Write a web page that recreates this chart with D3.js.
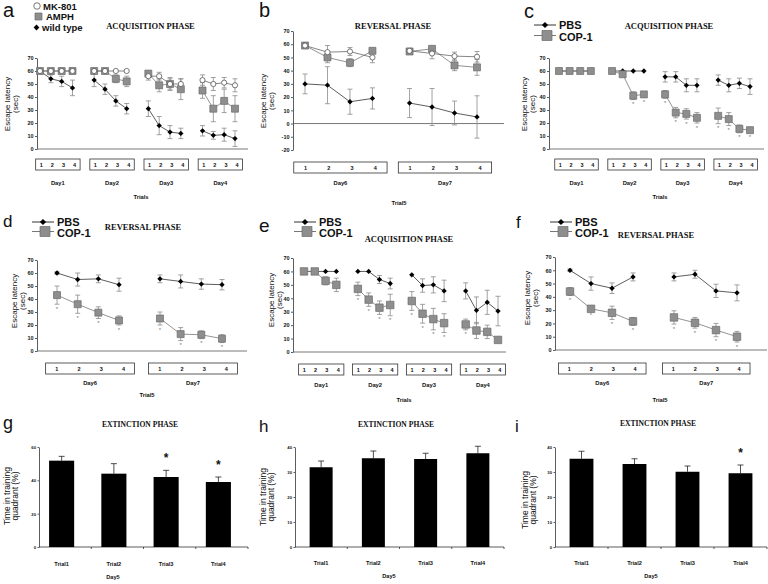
<!DOCTYPE html>
<html>
<head>
<meta charset="utf-8">
<script src="https://cdn.jsdelivr.net/npm/d3@7"></script>
<style>
body { margin: 0; background: #fff; }
svg text { font-family: Arial, "Liberation Sans", sans-serif; fill: #111; }
.title { font-family: "Times New Roman", "Liberation Serif", serif; font-weight: bold; }
</style>
</head>
<body>
<svg id="fig" width="768" height="584"></svg>
<script>
// ---------- data ----------
const trialNums = ['1', '2', '3', '4'];
const acqDays = ['Day1', 'Day2', 'Day3', 'Day4'];
const revDays = ['Day6', 'Day7'];
const barTrials = ['Trial1', 'Trial2', 'Trial3', 'Trial4'];
const latencyTicks = [0, 10, 20, 30, 40, 50, 60, 70];
const revLatencyTicks = [-20, -10, 0, 10, 20, 30, 40, 50, 60, 70];
const gTicks = [0, 20, 40, 60];
const hiTicks = [0, 10, 20, 30, 40];

// a - acquisition (MK-801 / AMPH / wild type), 4 trials x 4 days
const aMK801 = [60, 60, 60, 60, 60, 60, 60, 60, 56, 56, 50, 50, 53, 50, 51, 49];
const aMK801Err = [0, 0, 0, 0, 0, 0, 0, 0, 3, 3, 4, 4, 4, 5, 4, 5];
const aAMPH = [60, 60, 60, 60, 60, 60, 54, 52, 58, 49, 50, 46, 45, 31, 37, 31];
const aAMPHErr = [0, 0, 0, 0, 0, 0, 3, 4, 2, 5, 5, 8, 6, 10, 9, 10];
const aWild = [60, 54, 52, 47, 53, 46, 37, 31, 31, 18, 13, 12, 14, 10.5, 11, 8];
const aWildErr = [0, 3, 4, 6, 5, 4, 4, 4, 6, 7, 5, 4, 4, 3, 5, 6];

// b - reversal (MK-801 / AMPH / wild type), 4 trials x 2 days
const bMK801 = [59, 54, 54.5, 50, 55, 53, 51, 50.5];
const bMK801Err = [1, 5, 3, 4, 2, 4, 3, 4];
const bAMPH = [59, 50, 46, 55, 54.5, 56.5, 44, 42.5];
const bAMPHErr = [1, 4, 3, 2, 2, 2, 4, 6];
const bWild = [30, 29, 16.5, 19, 15.5, 12.5, 8, 5];
const bWildErr = [7.5, 14, 9.5, 8, 11, 14, 9, 16];

// c - acquisition PBS / COP-1
const cPBS = [60, 60, 60, 60, 60, 60, 60, 60, 55.5, 55.5, 49, 49, 53, 49, 50.5, 48];
const cPBSErr = [0, 0, 0, 0, 0, 0, 0, 0, 4, 4, 5, 5, 4, 5, 4, 6];
const cCOP = [60, 60, 60, 60, 60, 57.5, 41, 42, 42, 28, 27, 24, 25.5, 23, 15.5, 14.5];
const cCOPErr = [0, 0, 0, 0, 0, 0, 3, 2, 3, 4, 4, 4, 6, 5, 3, 2];
const cCOPStar = [0, 0, 0, 0, 0, 0, 1, 1, 1, 1, 1, 1, 1, 1, 1, 1];

// d - reversal PBS / COP-1
const dPBS = [60, 55, 55.5, 51, 55.5, 53.5, 51.5, 51];
const dPBSErr = [1, 5, 3, 5, 3, 5, 4, 4];
const dCOP = [43, 36, 29.5, 23.5, 25, 13, 12.5, 9.5];
const dCOPErr = [7, 7, 4.5, 3.5, 5, 5, 3, 3];
const dCOPStar = [1, 1, 1, 1, 1, 1, 1, 1];

// e - acquisition PBS / COP-1
const ePBS = [60, 60, 60, 60, 60, 60, 54, 51, 57.5, 49.5, 50, 45.5, 45.5, 31, 37, 30.5];
const ePBSErr = [0, 0, 0, 0, 0, 0, 3, 4, 0, 5, 6, 8, 6, 10, 9, 11];
const eCOP = [60, 60, 53, 50, 47, 39, 33, 35, 38, 28.5, 24.5, 21.5, 20.5, 16, 15, 9];
const eCOPErr = [0, 0, 3, 5, 5, 5, 5, 8, 7, 7, 8, 7, 4, 6, 5, 1];
const eCOPStar = [0, 0, 0, 0, 1, 1, 1, 1, 1, 1, 1, 1, 1, 0, 0, 0];

// f - reversal PBS / COP-1
const fPBS = [60, 50, 46.5, 55, 55, 57, 44.5, 43];
const fPBSErr = [1, 5, 4, 3, 3, 3, 5, 6];
const fCOP = [44, 31, 28, 21.5, 24.5, 20.5, 15, 10];
const fCOPErr = [3, 1, 5, 3, 5, 4, 5, 4];
const fCOPStar = [1, 1, 1, 1, 1, 1, 1, 1];

// g, h, i - extinction phase, time in training quadrant (%)
const gTime = [51.8, 44, 42, 39];
const gTimeErr = [2.6, 6, 4, 3];
const gStar = [0, 0, 1, 1];
const hTime = [31.9, 35.5, 35.2, 37.5];
const hTimeErr = [2.5, 2.9, 2.3, 2.8];
const hStar = [0, 0, 0, 0];
const iTime = [35.3, 33.2, 30.1, 29.5];
const iTimeErr = [3, 2.1, 2.3, 3.3];
const iStar = [0, 0, 0, 1];

// ---------- drawing ----------
const svg = d3.select('#fig');

function letter(ch, x, y, size) {
    svg.append('text').attr('x', x).attr('y', y).attr('font-size', size).text(ch);
}

function title(txt, x, y, size) {
    svg.append('text').attr('class', 'title').attr('x', x).attr('y', y)
        .attr('text-anchor', 'middle').attr('font-size', size).text(txt);
}

function rotLabel(lines, xs, y, size) {
    lines.forEach((l, k) => {
        svg.append('text')
            .attr('transform', `translate(${xs[k]},${y}) rotate(-90)`)
            .attr('text-anchor', 'middle').attr('dy', '0.35em')
            .attr('font-size', size).text(l);
    });
}

// size = approximate width of the marker in px
function marker(sel, type, size) {
    if (type == 'diamond') {
        sel.attr('d', d3.symbol(d3.symbolDiamond2, size * size / 2)).attr('fill', '#000');
    } else if (type == 'square') {
        sel.attr('d', d3.symbol(d3.symbolSquare, size * size))
            .attr('fill', '#8e8e8e').attr('stroke', '#6c6c6c').attr('stroke-width', 0.7);
    } else {
        sel.attr('d', d3.symbol(d3.symbolCircle, Math.PI * size * size / 4))
            .attr('fill', '#fff').attr('stroke', '#555').attr('stroke-width', 0.8);
    }
}

function legendPBS(x, y1, y2) {
    const g = svg.append('g');
    g.append('line').attr('x1', x).attr('x2', x + 22).attr('y1', y1).attr('y2', y1)
        .attr('stroke', '#333').attr('stroke-width', 1);
    g.append('path').attr('transform', `translate(${x + 11},${y1})`).call(marker, 'diamond', 7);
    g.append('line').attr('x1', x).attr('x2', x + 22).attr('y1', y2).attr('y2', y2)
        .attr('stroke', '#777').attr('stroke-width', 1);
    g.append('path').attr('transform', `translate(${x + 13},${y2})`).call(marker, 'square', 10);
    g.append('text').attr('x', x + 25).attr('y', y1 + 4).attr('font-size', 11)
        .attr('font-weight', 'bold').text('PBS');
    g.append('text').attr('x', x + 25).attr('y', y2 + 5).attr('font-size', 11)
        .attr('font-weight', 'bold').text('COP-1');
}

function linePanel(p) {
    const g = svg.append('g');
    const last = (p.days.length - 1) * p.gap + 3;
    const x = d3.scaleLinear().domain([0, last]).range([p.x0, p.x1]);
    const y = d3.scaleLinear().domain([p.yMin, 70]).range([p.yBottom, p.yTop]);
    const pos = i => x(Math.floor(i / 4) * p.gap + i % 4);

    const ax = g.append('g').attr('transform', `translate(${p.axisX},0)`)
        .call(d3.axisLeft(y).tickValues(p.ticks).tickSize(2).tickSizeOuter(0)
            .tickPadding(1.5).tickFormat(d => d));
    ax.attr('font-size', 5.5).attr('font-weight', 'bold')
        .attr('font-family', 'Arial, "Liberation Sans", sans-serif');
    ax.selectAll('path, line').attr('stroke', '#333').attr('stroke-width', 0.8);

    g.append('line').attr('x1', p.axisX).attr('x2', p.xEnd)
        .attr('y1', y(0)).attr('y2', y(0)).attr('stroke', '#555').attr('stroke-width', 0.8);

    p.series.forEach(s => {
        const pts = s.vals.map((v, i) => ({ i, v, e: s.errs[i], star: s.stars ? s.stars[i] : 0 }));
        const eb = g.append('g').attr('stroke', '#8a8a8a').attr('stroke-width', 0.8);
        pts.filter(d => d.e > 0).forEach(d => {
            const cx = pos(d.i);
            eb.append('line').attr('x1', cx).attr('x2', cx)
                .attr('y1', y(d.v - d.e)).attr('y2', y(d.v + d.e));
            [d.v - d.e, d.v + d.e].forEach(yy => {
                eb.append('line').attr('x1', cx - 2.5).attr('x2', cx + 2.5)
                    .attr('y1', y(yy)).attr('y2', y(yy));
            });
        });
        d3.range(p.days.length).forEach(dd => {
            g.append('path').datum(pts.slice(dd * 4, dd * 4 + 4))
                .attr('d', d3.line().x(d => pos(d.i)).y(d => y(d.v)))
                .attr('fill', 'none').attr('stroke', s.line).attr('stroke-width', 0.8);
        });
        g.selectAll(null).data(pts).join('path')
            .attr('transform', d => `translate(${pos(d.i)},${y(d.v)})`)
            .call(marker, s.marker, s.marker == 'square' ? p.sq : (s.marker == 'circle' ? 5.2 : 6));
        g.selectAll(null).data(pts.filter(d => d.star)).join('text')
            .attr('x', d => pos(d.i)).attr('y', d => y(d.v - d.e) + 6.5)
            .attr('text-anchor', 'middle').attr('font-size', 6).style('fill', '#777')
            .text('*');
    });

    p.days.forEach((day, dd) => {
        const l = x(dd * p.gap + p.boxL), r = x(dd * p.gap + 3 + p.boxR);
        g.append('rect').attr('x', l).attr('y', p.boxY).attr('width', r - l).attr('height', 11)
            .attr('fill', 'none').attr('stroke', '#333').attr('stroke-width', 0.8);
        trialNums.forEach((t, k) => {
            g.append('text').attr('x', l + (k + 0.5) * (r - l) / 4).attr('y', p.boxY + 7.5)
                .attr('text-anchor', 'middle').attr('font-size', 5.5).attr('font-weight', 'bold')
                .text(t);
        });
        g.append('text').attr('x', (l + r) / 2).attr('y', p.dayY)
            .attr('text-anchor', 'middle').attr('font-size', 5.8).attr('font-weight', 'bold')
            .text(day);
    });
    g.append('text').attr('x', p.xtX).attr('y', p.xtY).attr('text-anchor', 'middle')
        .attr('font-size', 5.8).attr('font-weight', 'bold').text(p.xTitle);
    rotLabel(['Escape latency', '(sec)'], p.ylX, p.ylY, 8);
}

function barPanel(p) {
    const g = svg.append('g');
    const x = d3.scaleBand().domain(barTrials).range([p.axisX, p.xEnd]);
    const y = d3.scaleLinear().domain([0, p.yMax]).range([p.yZero, p.yTop]);
    const bw = x.bandwidth() * p.barFrac;
    const cx = t => x(t) + x.bandwidth() / 2 + p.shift;

    const ax = g.append('g').attr('transform', `translate(${p.axisX},0)`)
        .call(d3.axisLeft(y).tickValues(p.ticks).tickSize(1.5).tickSizeOuter(0).tickPadding(1.5));
    ax.attr('font-size', 4.2).attr('font-weight', 'bold')
        .attr('font-family', 'Arial, "Liberation Sans", sans-serif');
    ax.selectAll('path, line').attr('stroke', '#333').attr('stroke-width', 0.8);

    g.append('line').attr('x1', p.axisX).attr('x2', p.xEnd)
        .attr('y1', y(0)).attr('y2', y(0)).attr('stroke', '#333').attr('stroke-width', 0.8);
    barTrials.slice(1).concat(['end']).forEach(t => {
        const tx = t == 'end' ? p.xEnd : x(t);
        g.append('line').attr('x1', tx).attr('x2', tx).attr('y1', y(0)).attr('y2', y(0) + 2)
            .attr('stroke', '#333').attr('stroke-width', 0.8);
    });

    const rows = barTrials.map((t, k) => ({ t, v: p.vals[k], e: p.errs[k], star: p.stars[k] }));
    rows.forEach(d => {
        const c = cx(d.t);
        g.append('line').attr('x1', c).attr('x2', c).attr('y1', y(d.v)).attr('y2', y(d.v + d.e))
            .attr('stroke', '#222').attr('stroke-width', 0.8);
        g.append('line').attr('x1', c - 3).attr('x2', c + 3)
            .attr('y1', y(d.v + d.e)).attr('y2', y(d.v + d.e))
            .attr('stroke', '#222').attr('stroke-width', 0.8);
    });
    g.selectAll(null).data(rows).join('rect')
        .attr('x', d => cx(d.t) - bw / 2).attr('width', bw)
        .attr('y', d => y(d.v)).attr('height', d => y(0) - y(d.v)).attr('fill', '#000');
    g.selectAll(null).data(rows.filter(d => d.star)).join('text')
        .attr('x', d => cx(d.t)).attr('y', d => y(d.v + d.e) - 8)
        .attr('text-anchor', 'middle').attr('font-size', 12).attr('font-weight', 'bold')
        .text('*');
    g.selectAll(null).data(rows).join('text')
        .attr('x', d => cx(d.t)).attr('y', p.catY)
        .attr('text-anchor', 'middle').attr('font-size', 5.6).attr('font-weight', 'bold')
        .text(d => d.t);
    g.append('text').attr('x', p.dayX).attr('y', p.catY + 13).attr('text-anchor', 'middle')
        .attr('font-size', 5.6).attr('font-weight', 'bold').text('Day5');
    rotLabel(['Time in training', 'quadrant (%)'], p.ylX, p.ylY, 8.5);
}

// ---------- panel a ----------
letter('a', 3, 16.7, 20);
title('ACQUISITION PHASE', 150.5, 29.3, 8.5);
svg.append('path').attr('transform', 'translate(37,6)').call(marker, 'circle', 6.5);
svg.append('path').attr('transform', 'translate(38.5,16.5)').call(marker, 'square', 7);
svg.append('path').attr('transform', 'translate(36.5,27.5)').call(marker, 'diamond', 6.5);
[['MK-801', 43, 9.5], ['AMPH', 46, 20], ['wild type', 42, 30.5]].forEach(l => {
    svg.append('text').attr('x', l[1]).attr('y', l[2]).attr('font-size', 9.5)
        .attr('font-weight', 'bold').text(l[0]);
});
linePanel({
    days: acqDays, gap: 5, x0: 40, x1: 235, yMin: 0, yBottom: 149, yTop: 58,
    ticks: latencyTicks, axisX: 37, xEnd: 248, sq: 7, boxL: -0.4, boxR: 0.7,
    boxY: 159, dayY: 185, xTitle: 'Trials', xtX: 141, xtY: 199, ylX: [7, 15], ylY: 104,
    series: [
        { vals: aWild, errs: aWildErr, marker: 'diamond', line: '#333' },
        { vals: aAMPH, errs: aAMPHErr, marker: 'square', line: '#777' },
        { vals: aMK801, errs: aMK801Err, marker: 'circle', line: '#666' }
    ]
});

// ---------- panel b ----------
letter('b', 259, 16.7, 20);
title('REVERSAL PHASE', 393, 29, 8.5);
linePanel({
    days: revDays, gap: 4.65, x0: 305, x1: 477, yMin: -20, yBottom: 150, yTop: 31,
    ticks: revLatencyTicks, axisX: 293, xEnd: 504, sq: 7, boxL: -0.5, boxR: 0.65,
    boxY: 162, dayY: 185, xTitle: 'Trial5', xtX: 399, xtY: 205, ylX: [263, 271.5], ylY: 101,
    series: [
        { vals: bWild, errs: bWildErr, marker: 'diamond', line: '#333' },
        { vals: bAMPH, errs: bAMPHErr, marker: 'square', line: '#777' },
        { vals: bMK801, errs: bMK801Err, marker: 'circle', line: '#666' }
    ]
});

// ---------- panel c ----------
letter('c', 524, 18.3, 20);
title('ACQUISITION PHASE', 669, 29.3, 8.5);
legendPBS(534, 25, 35.5);
linePanel({
    days: acqDays, gap: 5, x0: 559, x1: 750, yMin: 0, yBottom: 149, yTop: 58,
    ticks: latencyTicks, axisX: 549, xEnd: 764, sq: 7, boxL: -0.4, boxR: 0.7,
    boxY: 159, dayY: 185, xTitle: 'Trials', xtX: 660, xtY: 199, ylX: [524.5, 532], ylY: 104,
    series: [
        { vals: cPBS, errs: cPBSErr, marker: 'diamond', line: '#333' },
        { vals: cCOP, errs: cCOPErr, stars: cCOPStar, marker: 'square', line: '#777' }
    ]
});

// ---------- panel d ----------
letter('d', 3, 226.7, 17);
title('REVERSAL PHASE', 143, 230, 8.5);
legendPBS(32, 222, 231.5);
linePanel({
    days: revDays, gap: 4.98, x0: 57, x1: 222, yMin: 0, yBottom: 351, yTop: 260,
    ticks: latencyTicks, axisX: 37, xEnd: 247, sq: 7, boxL: -0.55, boxR: 0.75,
    boxY: 363, dayY: 385, xTitle: 'Trial5', xtX: 147, xtY: 397, ylX: [14.5, 22.5], ylY: 301,
    series: [
        { vals: dPBS, errs: dPBSErr, marker: 'diamond', line: '#333' },
        { vals: dCOP, errs: dCOPErr, stars: dCOPStar, marker: 'square', line: '#777' }
    ]
});

// ---------- panel e ----------
letter('e', 259, 231.7, 19);
title('ACQUISITION PHASE', 409, 241.7, 8.5);
legendPBS(294, 222, 231.5);
linePanel({
    days: acqDays, gap: 5, x0: 304, x1: 498, yMin: 0, yBottom: 352, yTop: 258,
    ticks: latencyTicks, axisX: 293, xEnd: 506, sq: 7.5, boxL: -0.5, boxR: 0.7,
    boxY: 364, dayY: 387, xTitle: 'Trials', xtX: 404, xtY: 402, ylX: [271.5, 279.5], ylY: 300,
    series: [
        { vals: ePBS, errs: ePBSErr, marker: 'diamond', line: '#333' },
        { vals: eCOP, errs: eCOPErr, stars: eCOPStar, marker: 'square', line: '#777' }
    ]
});

// ---------- panel f ----------
letter('f', 516, 228, 17);
title('REVERSAL PHASE', 656, 237.7, 8.5);
legendPBS(550, 222, 231.5);
linePanel({
    days: revDays, gap: 4.95, x0: 570, x1: 737, yMin: 0, yBottom: 350, yTop: 257,
    ticks: latencyTicks, axisX: 555, xEnd: 767, sq: 7.5, boxL: -0.55, boxR: 0.62,
    boxY: 363, dayY: 385, xTitle: 'Trial5', xtX: 660, xtY: 402, ylX: [527.5, 535.5], ylY: 298,
    series: [
        { vals: fPBS, errs: fPBSErr, marker: 'diamond', line: '#333' },
        { vals: fCOP, errs: fCOPErr, stars: fCOPStar, marker: 'square', line: '#777' }
    ]
});

// ---------- panels g, h, i ----------
letter('g', 3, 429, 18);
title('EXTINCTION PHASE', 140, 426.7, 7.6);
barPanel({
    vals: gTime, errs: gTimeErr, stars: gStar, ticks: gTicks, yMax: 60,
    axisX: 39, xEnd: 248, yZero: 547, yTop: 447, barFrac: 0.48, shift: -3.5,
    catY: 566, dayX: 113, ylX: [7, 15.5], ylY: 496
});
letter('h', 259, 431.7, 17);
title('EXTINCTION PHASE', 396, 426.7, 7.6);
barPanel({
    vals: hTime, errs: hTimeErr, stars: hStar, ticks: hiTicks, yMax: 40,
    axisX: 295, xEnd: 504, yZero: 547, yTop: 447, barFrac: 0.44, shift: 0,
    catY: 565, dayX: 389, ylX: [263, 271.5], ylY: 497
});
letter('i', 515, 431.7, 17);
title('EXTINCTION PHASE', 658, 426, 7.6);
barPanel({
    vals: iTime, errs: iTimeErr, stars: iStar, ticks: hiTicks, yMax: 40,
    axisX: 555, xEnd: 767, yZero: 547, yTop: 447, barFrac: 0.45, shift: 0,
    catY: 565, dayX: 651, ylX: [525, 533], ylY: 500
});
</script>
</body>
</html>
